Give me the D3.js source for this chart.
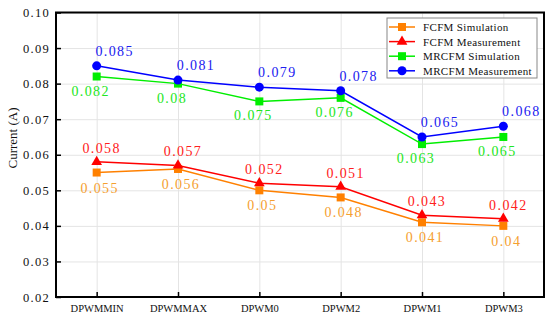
<!DOCTYPE html>
<html>
<head>
<meta charset="utf-8">
<script src="https://cdn.jsdelivr.net/npm/d3@7"></script>
<style>
  body { margin: 0; background: #fff; }
  text { font-family: "Liberation Serif", serif; }
</style>
</head>
<body>
<div id="chart"></div>
<script>
var categories = ["DPWMMIN", "DPWMMAX", "DPWM0", "DPWM2", "DPWM1", "DPWM3"];
var seriesNames = ["FCFM Simulation", "FCFM Measurement", "MRCFM Simulation", "MRCFM Measurement"];
var fcfmSim = [0.055, 0.056, 0.05, 0.048, 0.041, 0.04];
var fcfmMeas = [0.058, 0.057, 0.052, 0.051, 0.043, 0.042];
var mrcfmSim = [0.082, 0.08, 0.075, 0.076, 0.063, 0.065];
var mrcfmMeas = [0.085, 0.081, 0.079, 0.078, 0.065, 0.068];
var yTicks = [0.02, 0.03, 0.04, 0.05, 0.06, 0.07, 0.08, 0.09, 0.10];

var svgWidth = 550;
var svgHeight = 321;
var margin = { top: 12.5, right: 6, bottom: 24, left: 56 };
var width = svgWidth - margin.left - margin.right;
var height = svgHeight - margin.top - margin.bottom;

// per-series look: colour, label colour, marker, label offset
var styles = [
  { color: "#ff8000", labelColor: "#f5a030", marker: "square", dx: 3, dy: 20 },
  { color: "#ff0000", labelColor: "#ff2020", marker: "triangle", dx: 5, dy: -9 },
  { color: "#00ee00", labelColor: "#22e622", marker: "square", dx: -6, dy: 19 },
  { color: "#0000ff", labelColor: "#2020f0", marker: "circle", dx: 18, dy: -10 }
];
var allValues = [fcfmSim, fcfmMeas, mrcfmSim, mrcfmMeas];
var series = seriesNames.map(function (name, i) {
  return { name: name, values: allValues[i], style: styles[i] };
});

var svg = d3.select("#chart").append("svg")
  .attr("width", svgWidth)
  .attr("height", svgHeight);

var chart = svg.append("g")
  .attr("transform", `translate(${margin.left}, ${margin.top})`);

var xScale = d3.scalePoint()
  .domain(categories)
  .range([0, width])
  .padding(0.5);

var yScale = d3.scaleLinear()
  .domain([0.02, 0.10])
  .range([height, 0]);

// grid
chart.append("g")
  .call(d3.axisLeft(yScale).tickValues(yTicks).tickSize(-width).tickFormat(""))
  .call(g => g.select(".domain").remove())
  .call(g => g.selectAll("line").attr("stroke", "#e4e4e4"));

chart.append("g")
  .attr("transform", `translate(0, ${height})`)
  .call(d3.axisBottom(xScale).tickSize(-height).tickFormat(""))
  .call(g => g.select(".domain").remove())
  .call(g => g.selectAll("line").attr("stroke", "#e4e4e4"));

// axes, ticks pointing inward
var leftAxis = d3.axisLeft(yScale)
  .tickValues(yTicks)
  .tickSizeInner(-5)
  .tickSizeOuter(0)
  .tickPadding(6)
  .tickFormat(d3.format(".2f"));

var bottomAxis = d3.axisBottom(xScale)
  .tickSizeInner(-5)
  .tickSizeOuter(0)
  .tickPadding(8);

chart.append("g")
  .call(leftAxis)
  .call(g => g.select(".domain").remove())
  .call(g => g.selectAll("line").attr("stroke", "#000").attr("stroke-width", 1.5))
  .call(g => g.selectAll("text").attr("font-size", "12.5px").attr("fill", "#111")
    .attr("font-family", "Liberation Serif, serif").attr("letter-spacing", "1.3px"));

chart.append("g")
  .attr("transform", `translate(0, ${height})`)
  .call(bottomAxis)
  .call(g => g.select(".domain").remove())
  .call(g => g.selectAll("line").attr("stroke", "#000").attr("stroke-width", 1.5))
  .call(g => g.selectAll("text").attr("font-size", "10.5px").attr("fill", "#111")
    .attr("font-family", "Liberation Serif, serif"));

// frame
chart.append("rect")
  .attr("width", width)
  .attr("height", height)
  .attr("fill", "none")
  .attr("stroke", "#000")
  .attr("stroke-width", 2);

function drawMarker(sel, type, color) {
  if (type === "circle") {
    sel.append("circle").attr("r", 4.5).attr("fill", color);
  } else if (type === "square") {
    sel.append("rect").attr("x", -4).attr("y", -4).attr("width", 8).attr("height", 8).attr("fill", color);
  } else {
    sel.append("path").attr("d", d3.symbol(d3.symbolTriangle, 50)()).attr("fill", color);
  }
}

var line = d3.line()
  .x((d, i) => xScale(categories[i]))
  .y(d => yScale(d));

series.forEach(function (s) {
  chart.append("path")
    .datum(s.values)
    .attr("fill", "none")
    .attr("stroke", s.style.color)
    .attr("stroke-width", 1.5)
    .attr("d", line);
});

series.forEach(function (s) {
  var pts = chart.selectAll(null)
    .data(s.values)
    .enter()
    .append("g")
    .attr("transform", (d, i) => `translate(${xScale(categories[i])}, ${yScale(d)})`);
  drawMarker(pts, s.style.marker, s.style.color);

  chart.selectAll(null)
    .data(s.values)
    .enter()
    .append("text")
    .attr("x", (d, i) => xScale(categories[i]) + s.style.dx)
    .attr("y", d => yScale(d) + s.style.dy)
    .attr("text-anchor", "middle")
    .attr("font-size", "14px")
    .attr("letter-spacing", "1.4px")
    .attr("fill", s.style.labelColor)
    .text(d => String(d));
});

// y label
svg.append("text")
  .attr("transform", "translate(17, 138) rotate(-90)")
  .attr("text-anchor", "middle")
  .style("font-size", "13px")
  .attr("fill", "#111")
  .text("Current (A)");

// legend
var legend = svg.append("g").attr("transform", "translate(387, 18)");
legend.append("rect")
  .attr("width", 150)
  .attr("height", 60)
  .attr("fill", "#fff")
  .attr("stroke", "#888")
  .attr("stroke-width", 1);

var items = legend.selectAll("g.item")
  .data(series)
  .enter()
  .append("g")
  .attr("class", "item")
  .attr("transform", (d, i) => `translate(0, ${9 + i * 14.6})`);

items.append("line")
  .attr("x1", 2)
  .attr("x2", 28)
  .attr("stroke", d => d.style.color)
  .attr("stroke-width", 1.5);

items.each(function (d) {
  var m = d3.select(this).append("g").attr("transform", "translate(15, 0)");
  drawMarker(m, d.style.marker, d.style.color);
});

items.append("text")
  .attr("x", 36)
  .attr("y", 4)
  .attr("font-size", "11px")
  .attr("letter-spacing", "0.35px")
  .attr("fill", "#111")
  .text(d => d.name);
</script>
</body>
</html>
